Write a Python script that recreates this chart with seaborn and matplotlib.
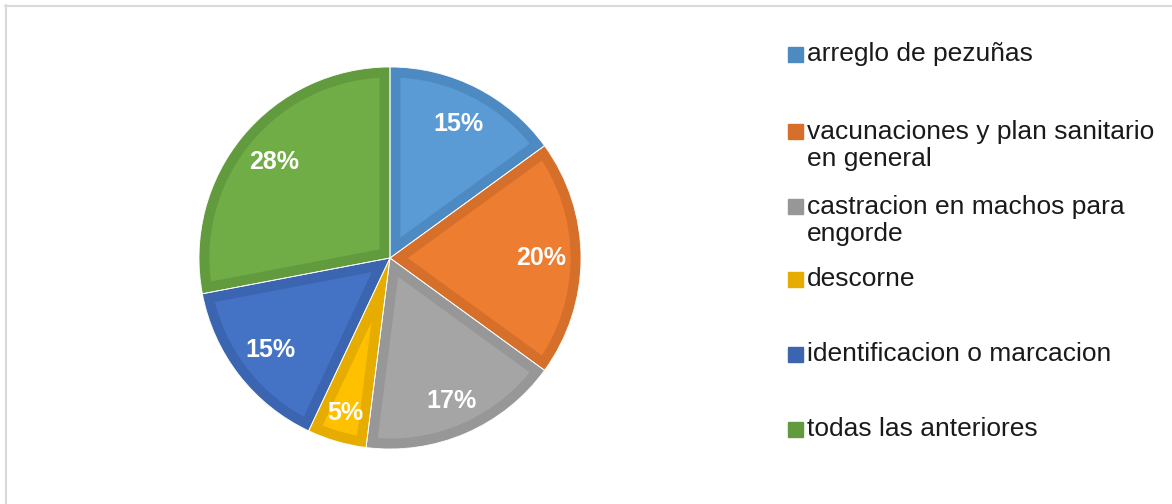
import matplotlib
matplotlib.use('Agg')
import matplotlib.pyplot as plt
import seaborn as sb
from matplotlib.patches import Rectangle, Wedge
from matplotlib.lines import Line2D

categories = ['arreglo de pezuñas',
              'vacunaciones y plan sanitario\nen general',
              'castracion en machos para\nengorde',
              'descorne',
              'identificacion o marcacion',
              'todas las anteriores']
values = [15, 20, 17, 5, 15, 28]
fill_colors = ['#5B9BD5', '#ED7D31', '#A5A5A5', '#FFC000', '#4472C4', '#70AD47']
edge_colors = ['#4E8AC2', '#D66F2A', '#979797', '#E6AD00', '#3B65B0', '#629B3E']
# Excel nudges some labels further out than the default distance
label_scale = [1.0, 1.0, 1.03, 1.07, 1.0, 1.0]

sb.set_theme(style='white')
plt.rcParams['font.family'] = ['Liberation Sans', 'DejaVu Sans']

W, H = 1172, 504
fig = plt.figure(figsize=(W / 100, H / 100), dpi=100)
fig.patch.set_facecolor('white')

# pie centre ~ (390, 258) px, radius ~ 190 px
cx, cy, r = 390, 258, 191
ax = fig.add_axes([(cx - r) / W, (H - cy - r) / H, 2 * r / W, 2 * r / H])
wedges, texts, autotexts = ax.pie(values, colors=fill_colors, startangle=90,
                                  counterclock=False, autopct='%1.0f%%',
                                  pctdistance=0.79, radius=1,
                                  wedgeprops=dict(linewidth=0))

# inner darker border: stroke clipped to the wedge itself
for w, ec in zip(wedges, edge_colors):
    w.set_edgecolor(ec)
    w.set_linewidth(15)
    w.set_joinstyle('miter')
    clip = Wedge(w.center, w.r, w.theta1, w.theta2, transform=ax.transData)
    w.set_clip_on(True)
    w.set_clip_path(clip)

# faint white seams between slices
ax.pie(values, startangle=90, counterclock=False, radius=1,
       wedgeprops=dict(fill=False, edgecolor='white', linewidth=0.6))
ax.set_xlim(-1, 1)
ax.set_ylim(-1, 1)
ax.set_aspect('equal')
ax.axis('off')

for t, s in zip(autotexts, label_scale):
    x, y = t.get_position()
    t.set_position((x * s, y * s))
    t.set_color('white')
    t.set_fontweight('bold')
    t.set_fontsize(18)

# legend drawn by hand, Excel style spacing
leg_y = [54, 131, 206, 279, 354, 429]
for lab, c, y in zip(categories, edge_colors, leg_y):
    fig.patches.append(Rectangle((788 / W, (H - y - 7.5) / H), 15 / W, 15 / H,
                                 transform=fig.transFigure, color=c))
    if '\n' in lab:
        fig.text(807 / W, (H - y + 11) / H, lab, ha='left', va='top',
                 fontsize=19, color='#1a1a1a', linespacing=1.15)
    else:
        fig.text(807 / W, (H - y) / H, lab, ha='left', va='center',
                 fontsize=19, color='#1a1a1a')

# chart frame (top and left visible)
fig.lines.append(Line2D([5 / W, 1], [1 - 5.5 / H, 1 - 5.5 / H], transform=fig.transFigure,
                        color='#D9D9D9', linewidth=1.5))
fig.lines.append(Line2D([5.5 / W, 5.5 / W], [0, 1 - 5 / H], transform=fig.transFigure,
                        color='#D9D9D9', linewidth=1.5))

fig.savefig('out.png', dpi=100)
